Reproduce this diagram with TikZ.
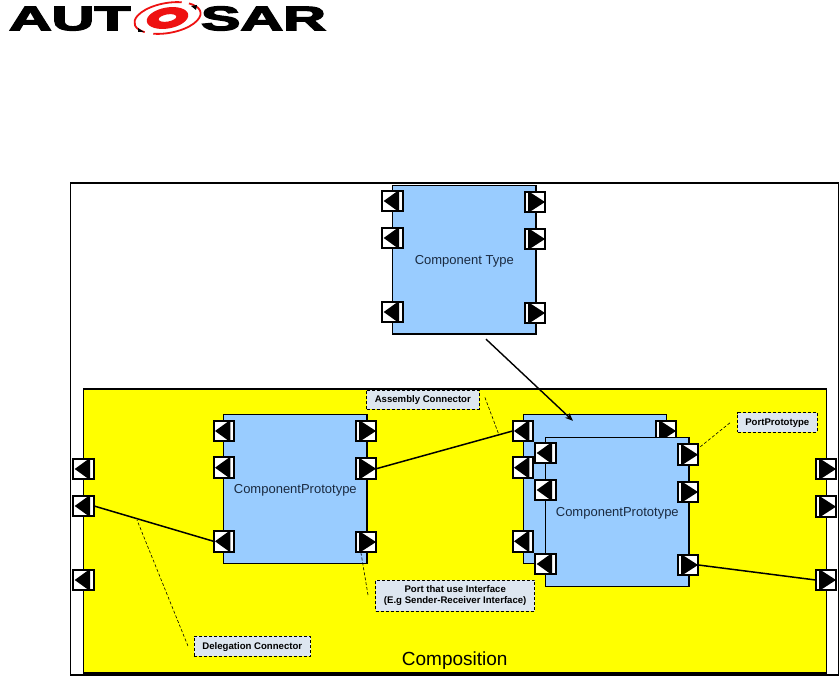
\documentclass[tikz,border=0pt]{standalone}
\usepackage{fontspec}
\usetikzlibrary{arrows.meta,calc}
\setmainfont{Liberation Sans}
\newfontfamily\logofont[BoldFeatures={FakeBold=3.5}]{Liberation Sans}
\definecolor{protoblue}{HTML}{99CCFF}
\definecolor{calloutfill}{HTML}{DDE6F0}
\definecolor{labelink}{HTML}{1A2A40}
\definecolor{compyellow}{HTML}{FFFF00}
\definecolor{logored}{HTML}{EE1111}
\tikzset{
  framebox/.style={rectangle,draw=black,inner sep=0pt,outer sep=0pt},
  compbox/.style={framebox,fill=protoblue,line width=1.3pt,minimum width=143.3pt,minimum height=148.3pt,
    font=\fontsize{13}{15}\selectfont,text=labelink,text height=9.3pt,text depth=0pt},
  portbase/.style={rectangle,draw=black,fill=white,line width=1.9pt,minimum size=20.8pt,inner sep=0pt,outer sep=0pt},
  portin/.style={portbase,path picture={\fill[black] (path picture bounding box.center) ++(-9,0) -- ++(15.3,-11) -- ++(0,22) -- cycle;}},
  portout/.style={portbase,path picture={\fill[black] (path picture bounding box.center) ++(10,0) -- ++(-17,-11) -- ++(0,22) -- cycle;}},
  callout/.style={rectangle,draw=black,densely dashed,line width=0.7pt,fill=calloutfill,inner sep=0pt,outer sep=0pt,
    font=\fontsize{9.6}{11.8}\selectfont\bfseries,align=center},
  oneline/.style={text height=7pt,text depth=0pt},
  leader/.style={draw=black,densely dashed,line width=0.6pt},
  wire/.style={draw=black,line width=1.5pt},
  logoletters/.style={inner sep=0pt,outer sep=0pt,anchor=base west,font=\logofont\bfseries\fontsize{34}{36}\selectfont},
}
\begin{document}
\begin{tikzpicture}[x=1pt,y=-1pt]
\useasboundingbox (0,0) rectangle (839,676);
% logo
\node[logoletters] (logoa) at (9,30.2) {\scalebox{1.74}[1]{AUT}};
\node[logoletters] (logob) at (201,30.2) {\scalebox{1.74}[1]{SAR}};
\begin{scope}[shift={(167.5,18)},x=1pt,y=1pt,rotate=10]
  \fill[white] (0,0) ellipse [x radius=36,y radius=18];
  \draw[logored,line width=1.8pt] (60:33.5 and 15) arc[start angle=60,end angle=222,x radius=33.5,y radius=15];
  \draw[logored,line width=1.8pt] (240:33.5 and 15) arc[start angle=240,end angle=405,x radius=33.5,y radius=15];
  \fill[logored,even odd rule] (0,0) ellipse [x radius=21,y radius=10.5] (0,0) ellipse [x radius=9,y radius=3.6];
\end{scope}
\fill[black] (191,6) -- (197,5) -- (196,10) -- cycle;
\fill[black] (138,28) -- (144,32) -- (138,32) -- cycle;
% frames
\node[framebox,line width=1.3pt,minimum width=767.8pt,minimum height=492pt] (outer) at (454.6,429) {};
\node[framebox,fill=compyellow,line width=1.1pt,minimum width=743pt,minimum height=284pt] (comp) at (455.2,531) {};
% Component Type
\node[compbox] (ct) at (464.3,260) {Component Type};
\node[portin] (ctl1) at (392.7,201) {};
\node[portin] (ctl2) at (392.7,238) {};
\node[portin] (ctl3) at (392.7,312) {};
\node[portout] (ctr1) at (535,202) {};
\node[portout] (ctr2) at (535,239) {};
\node[portout] (ctr3) at (535,313) {};
% composition ports
\node[portin] (cl1) at (83.7,469) {};
\node[portin] (cl2) at (83.7,506) {};
\node[portin] (cl3) at (83.7,580) {};
\node[portout] (cr1) at (826,469) {};
\node[portout] (cr2) at (826,506.7) {};
\node[portout] (cr3) at (826,580) {};
% left prototype
\node[compbox] (pa) at (295.3,489) {ComponentPrototype};
\node[portin] (pal1) at (224,431) {};
\node[portin] (pal2) at (224,467.7) {};
\node[portin] (pal3) at (224,541.3) {};
\node[portout] (par1) at (366,431) {};
\node[portout] (par2) at (366,468.7) {};
\node[portout] (par3) at (366,542) {};
% rear prototype
\node[compbox] (pb) at (595,489) {};
\node[portin] (pbl1) at (523,431) {};
\node[portin] (pbl2) at (523,467.7) {};
\node[portin] (pbl3) at (523,541.3) {};
\node[portout] (pbr1) at (666,431) {};
% front prototype
\node[compbox] (pc) at (617.3,512) {ComponentPrototype};
\node[portin] (pcl1) at (545.7,453) {};
\node[portin] (pcl2) at (545.7,490) {};
\node[portin] (pcl3) at (545.7,564) {};
\node[portout] (pcr1) at (688,454.7) {};
\node[portout] (pcr2) at (688,492) {};
\node[portout] (pcr3) at (688,565) {};
% connectors
\draw[wire] (cl2.east) -- (pal3.west);
\draw[wire] (par2.east) -- (pbl1.west);
\draw[wire] (pcr3.east) -- (cr3.west);
\draw[draw=black,line width=1.4pt,-{Stealth[length=8pt,width=6.5pt]}] ([shift={(21.7,5)}]ct.south) -- ([shift={(-22,6)}]pb.north);
% callouts
\node[callout,oneline,minimum width=112.3pt,minimum height=19pt] (cAss) at (422.8,399.5) {Assembly Connector};
\node[callout,minimum width=159pt,minimum height=31pt] (cPort) at (455.2,595.5) {Port that use Interface\\(E.g Sender-Receiver Interface)};
\node[callout,oneline,minimum width=79.3pt,minimum height=19.3pt] (cPP) at (777.3,422.3) {PortPrototype};
\node[callout,oneline,minimum width=116.7pt,minimum height=20pt] (cDel) at (252.3,646) {Delegation Connector};
\coordinate (lAss) at (499,435);
\coordinate (lPort) at (361,553);
\coordinate (lPP) at (700,447);
\coordinate (lDel) at (137,520);
\draw[leader] ([shift={(6,-2)}]cAss.east) -- (lAss);
\draw[leader] ([shift={(-7.7,-0.5)}]cPort.west) -- (lPort);
\draw[leader] ([shift={(-7.7,0.5)}]cPP.west) -- (lPP);
\draw[leader] ([shift={(-6,0)}]cDel.west) -- (lDel);
% caption
\node[inner sep=0pt,font=\fontsize{19}{21}\selectfont,text height=13.6pt,text depth=0pt] (captionc) at (454.7,658.5) {Composition};
\end{tikzpicture}
\end{document}
